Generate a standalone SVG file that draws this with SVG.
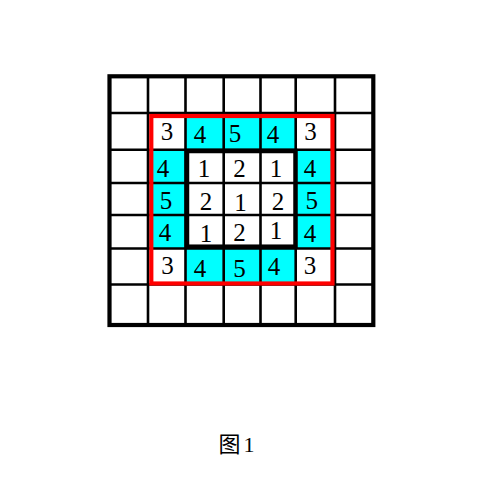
<svg xmlns="http://www.w3.org/2000/svg" width="500" height="500" viewBox="0 0 500 500">
<style>
.c{fill:#00FFFF}
.n{font-family:"Liberation Serif","Times New Roman",serif;font-size:25px;fill:#000;text-anchor:middle}
.g{stroke:#000;stroke-width:2.6;fill:none}
.cap{font-family:"Liberation Serif","Noto Sans CJK SC",serif;font-size:22px;fill:#000;letter-spacing:3px}
</style>
<rect x="0" y="0" width="500" height="500" fill="#fff"/>
<g id="fills">
<rect class="c" x="185.5" y="113" width="110.2" height="36.7"/>
<rect class="c" x="185.5" y="248.5" width="110.2" height="36"/>
<rect class="c" x="148" y="149.7" width="37.5" height="98.8"/>
<rect class="c" x="295.7" y="149.7" width="39.3" height="98.8"/>
</g>
<g id="grid">
<path class="g" d="M148 76V325M185.5 76V325M223.7 76V325M260.5 76V325M295.7 76V325M335 76V325"/>
<path class="g" d="M109 113H374M109 149.7H374M109 183H374M109 215H374M109 248.5H374M109 284.5H374"/>
<rect x="109.5" y="76.3" width="263.8" height="248.7" fill="none" stroke="#000" stroke-width="4.2"/>
<rect x="187" y="151" width="108.5" height="95.7" fill="none" stroke="#000" stroke-width="4.5"/>
<rect x="151.3" y="116" width="181.2" height="167.5" fill="none" stroke="#FF0000" stroke-width="4.2"/>
</g>
<g id="row1">
<text class="n" x="167" y="139.5">3</text>
<text class="n" x="200" y="143">4</text>
<text class="n" x="235" y="141.5">5</text>
<text class="n" x="273" y="143">4</text>
<text class="n" x="310.5" y="139.5">3</text>
</g>
<g id="row2">
<text class="n" x="163" y="176.5">4</text>
<text class="n" x="204" y="176.5">1</text>
<text class="n" x="239.5" y="176.5">2</text>
<text class="n" x="276" y="176.5">1</text>
<text class="n" x="310" y="176.5">4</text>
</g>
<g id="row3">
<text class="n" x="166" y="208.5">5</text>
<text class="n" x="206" y="210">2</text>
<text class="n" x="240.5" y="211">1</text>
<text class="n" x="278" y="210">2</text>
<text class="n" x="311.7" y="208.5">5</text>
</g>
<g id="row4">
<text class="n" x="165" y="240.5">4</text>
<text class="n" x="206" y="241.7">1</text>
<text class="n" x="239.5" y="241">2</text>
<text class="n" x="276" y="239">1</text>
<text class="n" x="310" y="241.5">4</text>
</g>
<g id="row5">
<text class="n" x="167.5" y="274">3</text>
<text class="n" x="200" y="276.5">4</text>
<text class="n" x="239.5" y="276.5">5</text>
<text class="n" x="274" y="275">4</text>
<text class="n" x="310" y="274">3</text>
</g>
<g id="caption">
<text class="cap" x="218.5" y="452">图1</text>
</g>
</svg>
